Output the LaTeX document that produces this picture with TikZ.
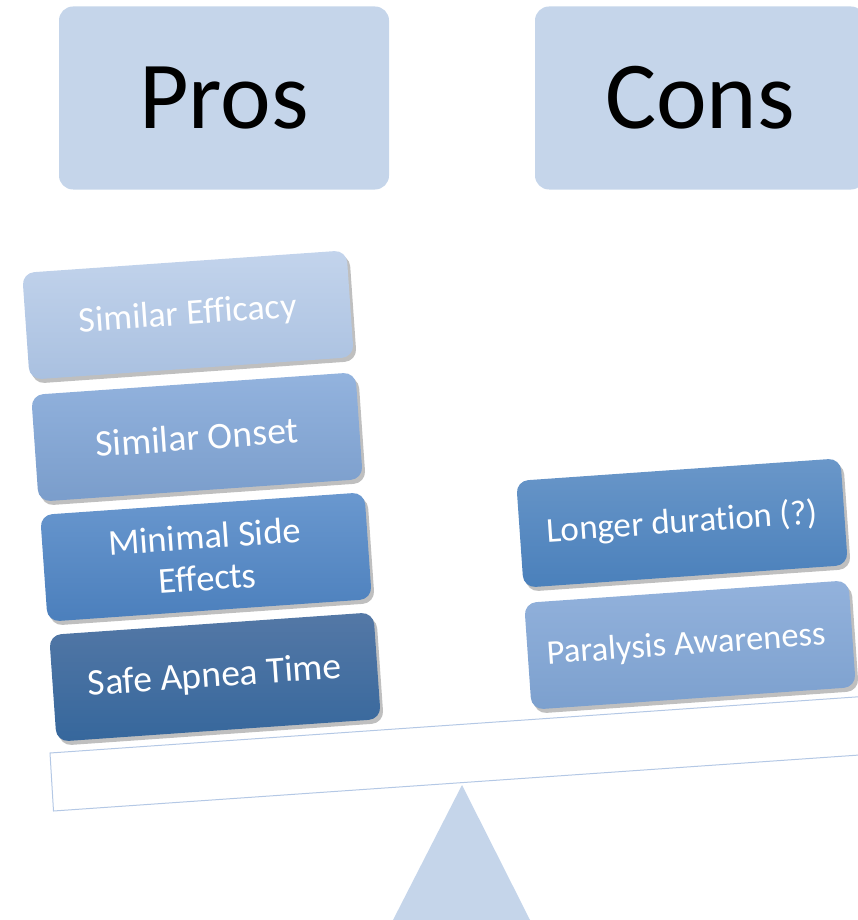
\documentclass[tikz,border=0pt]{standalone}
\usepackage{fontspec}
\setmainfont{Carlito}[Ligatures=NoCommon]
\usetikzlibrary{shadows}

\definecolor{hdr}{HTML}{C5D5EA}
\definecolor{beam}{HTML}{B4C8E5}
\definecolor{eff1}{HTML}{C3D4EC}\definecolor{eff2}{HTML}{A9C0E0}
\definecolor{ons1}{HTML}{93B3DE}\definecolor{ons2}{HTML}{7A9DCB}
\definecolor{sid1}{HTML}{6A98CF}\definecolor{sid2}{HTML}{4B7FBC}
\definecolor{apn1}{HTML}{5478A6}\definecolor{apn2}{HTML}{36679C}
\definecolor{dur1}{HTML}{6A97C9}\definecolor{dur2}{HTML}{4A80BB}
\definecolor{awa1}{HTML}{93B2DC}\definecolor{awa2}{HTML}{7CA0CE}

\begin{document}
\begin{tikzpicture}[x=1pt,y=-1pt,
    header/.style={rounded corners=14pt, fill=hdr, minimum width=330pt, minimum height=183pt, font=\fontsize{96}{96}\selectfont},
    item/.style={rounded corners=12pt, minimum width=325pt, minimum height=107pt, rotate=4, text=white, align=center,
        drop shadow={shadow xshift=3pt, shadow yshift=-4pt, opacity=.5}}]
\useasboundingbox (0,0) rectangle (858,920);
\clip (0,0) rectangle (858,920);

%headings
\node[header] (pros) at (224,98) {Pros};
\node[header] (cons) at (700,98) {Cons};

%beam and fulcrum
\path[draw=beam, fill=white, line width=1pt] (50,753) -- (920,692.5) -- (920,750.8) -- (53.5,811) -- cycle;
\path[fill=hdr] (462,785) -- (530,920) -- (393,920) -- cycle;

%weights
\foreach \n/\x/\y/\col/\fs/\txt in {
    efficacy/188/315/eff/36/Similar Efficacy,
    onset/197/437/ons/37.5/Similar Onset,
    sides/206/557/sid/36.5/{Minimal Side\\Effects},
    apnea/215/677/apn/37.5/Safe Apnea Time,
    duration/682/523/dur/35/Longer duration (?),
    awareness/690/645/awa/34.5/Paralysis Awareness
}{
    \node[item, top color=\col1, bottom color=\col2, font=\fontsize{\fs}{42}\selectfont] (\n) at (\x,\y) {\txt};
}

\end{tikzpicture}
\end{document}
